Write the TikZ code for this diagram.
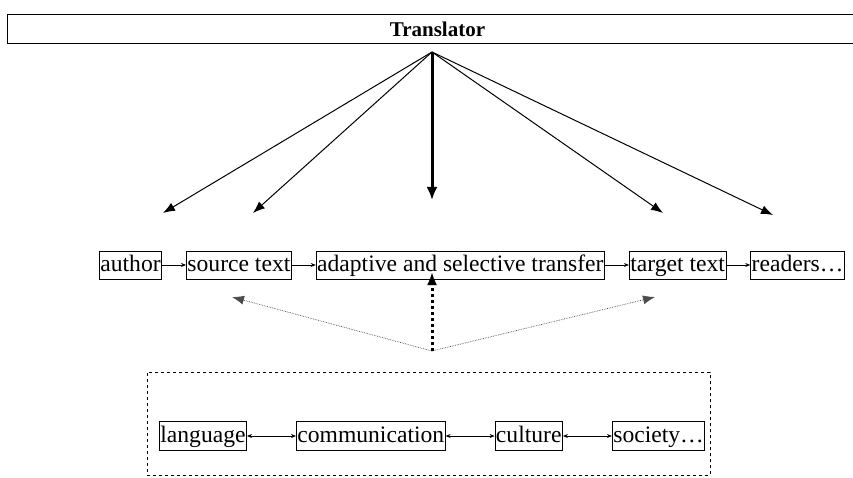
\documentclass[tikz,border=0pt]{standalone}
\usepackage{fontspec}
\setmainfont{Liberation Serif}
\usepackage{tikz}
\usetikzlibrary{arrows.meta,positioning}

\begin{document}
\begin{tikzpicture}[
  x=1pt,y=-1pt,
  node distance=24pt,
  box/.style={draw,line width=0.8pt,inner xsep=1pt,inner ysep=2pt,
              text height=18pt,text depth=6pt,font=\fontsize{23.6}{27}\selectfont},
  lowbox/.style={box,text height=19pt},
  head/.style={draw,line width=1pt,minimum height=29pt,
               font=\fontsize{21}{24}\selectfont\bfseries},
  arr/.style={-{Latex[length=12pt,width=9pt]},line width=1pt},
  bigarr/.style={-{Latex[length=13pt,width=11pt]},line width=3pt},
  small/.style={-{Stealth[length=5pt,width=4pt]},line width=0.7pt},
  both/.style={{Stealth[length=5pt,width=4pt]}-{Stealth[length=5pt,width=4pt]},line width=0.7pt},
  dotarr/.style={-{Latex[length=12pt,width=9pt]},line width=0.7pt,densely dotted,black!70},
  bigdot/.style={-{Latex[length=13pt,width=10pt]},line width=3pt,dash pattern=on 3pt off 3pt}
]
  \useasboundingbox (0,0) rectangle (853,478);

  \node[head,minimum width=860pt,anchor=north west] (translator) at (7,14) {Translator};
  \coordinate (apex) at (432,52);

  \node[box,anchor=west] (author) at (99,265) {author};
  \node[box,right=of author] (source) {source text};
  \node[box,right=of source] (transfer) {adaptive and selective transfer};
  \node[box,right=of transfer] (target) {target text};
  \node[box,right=of target] (readers) {readers\dots};

  \coordinate (toauthor) at (163,213);
  \coordinate (tosource) at (253,213);
  \coordinate (tomid) at (432,200);
  \coordinate (totarget) at (663,213);
  \coordinate (toreaders) at (773,215);
  \draw[arr] (apex) -- (toauthor);
  \draw[arr] (apex) -- (tosource);
  \draw[bigarr] (apex) -- (tomid);
  \draw[arr] (apex) -- (totarget);
  \draw[arr] (apex) -- (toreaders);

  \draw[small] (author) -- (source);
  \draw[small] (source) -- (transfer);
  \draw[small] (transfer) -- (target);
  \draw[small] (target) -- (readers);

  \node[draw,dashed,line width=0.9pt,minimum width=563pt,minimum height=103pt,
        anchor=north west] (context) at (147,372) {};
  \node[lowbox,anchor=west] (language) at (159,436) {language};
  \node[lowbox,right=49pt of language] (communication) {communication};
  \node[lowbox,right=49pt of communication] (culture) {culture};
  \node[lowbox,right=49pt of culture] (society) {society\dots};
  \draw[both] (language) -- (communication);
  \draw[both] (communication) -- (culture);
  \draw[both] (culture) -- (society);

  \coordinate (base) at (432,351);
  \coordinate (tosrc) at (232,297);
  \coordinate (totgt) at (655,297);
  \coordinate (upmid) at (432,272);
  \draw[dotarr] (base) -- (tosrc);
  \draw[dotarr] (base) -- (totgt);
  \draw[bigdot] (base) -- (upmid);
\end{tikzpicture}
\end{document}
